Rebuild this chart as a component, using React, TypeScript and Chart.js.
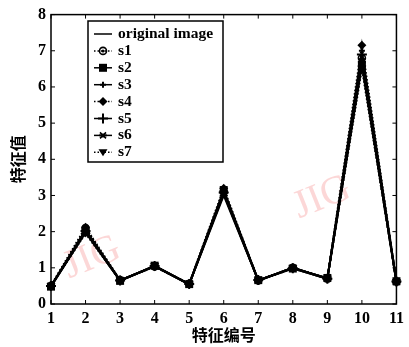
import React, { useEffect, useRef } from 'react';
import { Chart, registerables } from 'chart.js';

Chart.register(...registerables);

const featureIds = ['1', '2', '3', '4', '5', '6', '7', '8', '9', '10', '11'];
const yTickValues = [0, 1, 2, 3, 4, 5, 6, 7, 8];

const originalImage = [0.5, 2.0, 0.65, 1.05, 0.55, 3.05, 0.65, 1.0, 0.7, 6.65, 0.6];
const s1 = [0.5, 2.1, 0.66, 1.04, 0.56, 3.1, 0.65, 1.0, 0.7, 6.8, 0.62];
const s2 = [0.48, 1.98, 0.64, 1.06, 0.55, 3.15, 0.66, 0.98, 0.72, 6.6, 0.63];
const s3 = [0.5, 2.05, 0.65, 1.05, 0.54, 3.12, 0.64, 1.01, 0.7, 7.0, 0.61];
const s4 = [0.51, 2.12, 0.66, 1.03, 0.56, 3.2, 0.65, 1.0, 0.71, 7.15, 0.6];
const s5 = [0.5, 2.02, 0.65, 1.05, 0.55, 3.08, 0.66, 0.99, 0.7, 6.9, 0.62];
const s6 = [0.49, 2.0, 0.64, 1.04, 0.55, 3.0, 0.65, 1.0, 0.69, 6.7, 0.6];
const s7 = [0.5, 1.95, 0.65, 1.05, 0.54, 3.05, 0.65, 0.98, 0.7, 6.5, 0.61];

const seriesLabels = ['original image', 's1', 's2', 's3', 's4', 's5', 's6', 's7'];
const seriesValues = [originalImage, s1, s2, s3, s4, s5, s6, s7];
const seriesMarkers = ['none', 'circle', 'square', 'smallcross', 'diamond', 'cross', 'star', 'tridown'];
const seriesDotted = [false, true, false, false, true, false, false, true];

const SERIF = '"Liberation Serif", "DejaVu Serif", serif';
const CJK = '"Noto Sans CJK SC", sans-serif';

function drawMarker(ctx: CanvasRenderingContext2D, kind: string, x: number, y: number) {
  ctx.save();
  ctx.setLineDash([]);
  ctx.strokeStyle = '#000';
  ctx.fillStyle = '#000';
  ctx.lineWidth = 1.6;
  ctx.beginPath();
  switch (kind) {
    case 'circle':
      ctx.arc(x, y, 3.5, 0, Math.PI * 2);
      ctx.stroke();
      ctx.beginPath();
      ctx.arc(x, y, 1.5, 0, Math.PI * 2);
      ctx.fill();
      break;
    case 'square':
      ctx.rect(x - 4, y - 4, 8, 8);
      ctx.fill();
      break;
    case 'smallcross':
      ctx.moveTo(x - 3, y); ctx.lineTo(x + 3, y);
      ctx.moveTo(x, y - 3); ctx.lineTo(x, y + 3);
      ctx.lineWidth = 2;
      ctx.stroke();
      break;
    case 'diamond':
      ctx.moveTo(x, y - 4.5); ctx.lineTo(x + 4.5, y); ctx.lineTo(x, y + 4.5); ctx.lineTo(x - 4.5, y); ctx.closePath();
      ctx.fill();
      break;
    case 'cross':
      ctx.moveTo(x - 5, y); ctx.lineTo(x + 5, y);
      ctx.moveTo(x, y - 5); ctx.lineTo(x, y + 5);
      ctx.lineWidth = 2;
      ctx.stroke();
      break;
    case 'star':
      ctx.moveTo(x - 4, y); ctx.lineTo(x + 4, y);
      ctx.moveTo(x - 3, y - 3); ctx.lineTo(x + 3, y + 3);
      ctx.moveTo(x - 3, y + 3); ctx.lineTo(x + 3, y - 3);
      ctx.moveTo(x, y - 2); ctx.lineTo(x, y + 2);
      ctx.stroke();
      break;
    case 'tridown':
      ctx.moveTo(x - 4.5, y - 3); ctx.lineTo(x + 4.5, y - 3); ctx.lineTo(x, y + 4); ctx.closePath();
      ctx.fill();
      break;
    default:
      break;
  }
  ctx.restore();
}

const markerPlugin = {
  id: 'customMarkers',
  afterDatasetsDraw(chart: any) {
    const ctx = chart.ctx;
    chart.data.datasets.forEach((ds: any, i: number) => {
      const meta = chart.getDatasetMeta(i);
      meta.data.forEach((pt: any) => drawMarker(ctx, seriesMarkers[i], pt.x, pt.y));
    });
  },
};

const watermarkPlugin = {
  id: 'watermark',
  beforeDatasetsDraw(chart: any) {
    const ctx = chart.ctx;
    ctx.save();
    ctx.fillStyle = 'rgba(245, 140, 140, 0.35)';
    ctx.font = `40px ${SERIF}`;
    ctx.textAlign = 'center';
    ctx.textBaseline = 'middle';
    [[92, 258], [322, 198]].forEach(([x, y]) => {
      ctx.save();
      ctx.translate(x, y);
      ctx.rotate(-0.38);
      ctx.fillText('JIG', 0, 0);
      ctx.restore();
    });
    ctx.restore();
  },
};

const framePlugin = {
  id: 'frameAndLegend',
  afterDraw(chart: any) {
    const ctx = chart.ctx;
    const a = chart.chartArea;
    const xs = chart.scales.x;
    const ys = chart.scales.y;
    ctx.save();
    ctx.strokeStyle = '#000';
    ctx.lineWidth = 1.5;
    ctx.setLineDash([]);
    ctx.strokeRect(a.left, a.top, a.right - a.left, a.bottom - a.top);
    ctx.lineWidth = 1;
    ctx.beginPath();
    featureIds.forEach((_, i) => {
      const x = xs.getPixelForValue(i);
      ctx.moveTo(x, a.bottom); ctx.lineTo(x, a.bottom - 4);
      ctx.moveTo(x, a.top); ctx.lineTo(x, a.top + 4);
    });
    yTickValues.forEach((v) => {
      const y = ys.getPixelForValue(v);
      ctx.moveTo(a.left, y); ctx.lineTo(a.left + 4, y);
      ctx.moveTo(a.right, y); ctx.lineTo(a.right - 4, y);
    });
    ctx.stroke();

    // legend box
    const bx = 88, by = 21, bw = 135, bh = 141;
    ctx.fillStyle = '#fff';
    ctx.fillRect(bx, by, bw, bh);
    ctx.lineWidth = 1.5;
    ctx.strokeRect(bx, by, bw, bh);
    ctx.font = `bold 15.5px ${SERIF}`;
    ctx.textBaseline = 'middle';
    ctx.textAlign = 'left';
    ctx.fillStyle = '#000';
    seriesLabels.forEach((lab, i) => {
      const y = 34 + i * 16.9;
      ctx.save();
      ctx.lineWidth = 1.5;
      ctx.setLineDash(seriesDotted[i] ? [1.5, 2] : []);
      ctx.beginPath();
      ctx.moveTo(94, y);
      ctx.lineTo(112, y);
      ctx.stroke();
      ctx.restore();
      drawMarker(ctx, seriesMarkers[i], 103, y);
      ctx.fillText(lab, 118, y);
    });
    ctx.restore();
  },
};

export default function App() {
  const ref = useRef<HTMLCanvasElement | null>(null);

  useEffect(() => {
    document.body.style.margin = '0';
    if (!ref.current) return;
    const chart = new Chart(ref.current, {
      type: 'line',
      data: {
        labels: featureIds,
        datasets: seriesLabels.map((lab, i) => ({
          label: lab,
          data: seriesValues[i],
          borderColor: '#000',
          backgroundColor: '#000',
          borderWidth: 2,
          borderDash: seriesDotted[i] ? [1.5, 2] : [],
          pointRadius: 0,
          fill: false,
          tension: 0,
        })),
      },
      options: {
        animation: false,
        responsive: true,
        maintainAspectRatio: false,
        layout: { padding: { top: 14, right: 6, left: 0, bottom: 0 } },
        plugins: {
          legend: { display: false },
          tooltip: { enabled: false },
        },
        scales: {
          x: {
            type: 'category',
            offset: false,
            grid: { display: false, drawTicks: false },
            border: { display: false },
            ticks: {
              color: '#000',
              font: { family: SERIF, size: 16, weight: 'bold' },
              padding: 5,
              maxRotation: 0,
              autoSkip: false,
            },
            title: {
              display: true,
              text: '特征编号',
              color: '#000',
              font: { family: CJK, size: 16, weight: 'bold' },
              padding: { top: 0, bottom: 2 },
            },
            afterFit: (s: any) => { s.height = 43; },
          },
          y: {
            min: 0,
            max: 8,
            grid: { display: false, drawTicks: false },
            border: { display: false },
            ticks: {
              stepSize: 1,
              color: '#000',
              font: { family: SERIF, size: 16, weight: 'bold' },
              padding: 5,
            },
            title: {
              display: true,
              text: '特征值',
              color: '#000',
              font: { family: CJK, size: 16, weight: 'bold' },
              padding: { top: 8, bottom: 0 },
            },
            afterFit: (s: any) => { s.width = 51; },
          },
        },
      },
      plugins: [watermarkPlugin, markerPlugin, framePlugin],
    });
    return () => chart.destroy();
  }, []);

  return (
    <div style={{ position: 'absolute', left: 0, top: 0, width: 409, height: 347, background: '#fff' }}>
      <canvas ref={ref} />
    </div>
  );
}
